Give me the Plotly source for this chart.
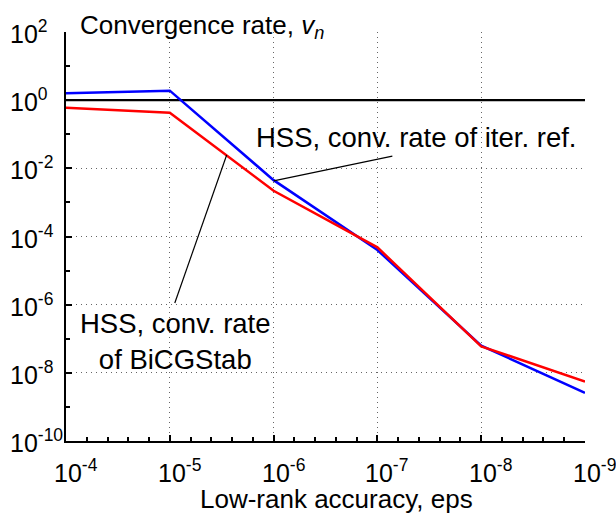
import plotly.graph_objects as go
import numpy as np

# Data
eps = [1e-4, 1e-5, 1e-6, 1e-7, 1e-8, 1e-9]
rate_iter_ref = [1.6, 1.9, 4.5e-3, 4.0e-5, 6.3e-8, 2.6e-9]     # blue
rate_bicgstab = [0.6, 0.43, 2.2e-3, 4.8e-5, 6.0e-8, 5.5e-9]    # red
threshold_x = [1e-4, 1e-9]
threshold_y = [1.0, 1.0]

x_tickvals = [1e-4, 1e-5, 1e-6, 1e-7, 1e-8, 1e-9]
x_ticktext = ["10<sup>-4</sup>", "10<sup>-5</sup>", "10<sup>-6</sup>",
              "10<sup>-7</sup>", "10<sup>-8</sup>", "10<sup>-9</sup>"]
y_tickvals = [1e2, 1e0, 1e-2, 1e-4, 1e-6, 1e-8, 1e-10]
y_ticktext = ["10<sup>2</sup>", "10<sup>0</sup>", "10<sup>-2</sup>", "10<sup>-4</sup>",
              "10<sup>-6</sup>", "10<sup>-8</sup>", "10<sup>-10</sup>"]

FONT = "Liberation Sans, Arial, Helvetica, sans-serif"
L, R, T, B = 66, 31, 32, 74
PW, PH = 616 - L - R, 515 - T - B

fig = go.Figure()
fig.add_trace(go.Scatter(x=threshold_x, y=threshold_y, mode="lines",
                         line=dict(color="black", width=2.2), showlegend=False))
fig.add_trace(go.Scatter(x=eps, y=rate_iter_ref, mode="lines",
                         line=dict(color="#0000ff", width=2.5), showlegend=False))
fig.add_trace(go.Scatter(x=eps, y=rate_bicgstab, mode="lines",
                         line=dict(color="#ff0000", width=2.5), showlegend=False))

# leader lines (label anchor -> point on curve)
fig.add_trace(go.Scatter(x=[10**-7.144, eps[2]], y=[10**-1.64, rate_iter_ref[2]*0.95],
                         mode="lines", line=dict(color="black", width=1.2), showlegend=False))
fig.add_trace(go.Scatter(x=[10**-5.048, 10**-5.548], y=[10**-5.95, 10**-1.61],
                         mode="lines", line=dict(color="black", width=1.2), showlegend=False))

# minor tick positions (MATLAB-style, evenly spaced within a decade)
x_minor = [10**(-d - k/5) for d in range(4, 9) for k in range(1, 5)]
y_minor = [10.0**p for p in range(-9, 2, 2)]

common = dict(type="log", ticks="inside", ticklen=6, tickwidth=1.5, tickcolor="black",
              showline=True, linecolor="black", linewidth=2, mirror=False,
              showgrid=True, gridcolor="#666666", griddash="1px,4px", gridwidth=1,
              zeroline=False, automargin=False, showticklabels=False)
fig.update_xaxes(range=[-4, -9], tickvals=x_tickvals,
                 minor=dict(tickvals=x_minor, ticks="inside", ticklen=4, tickcolor="black", showgrid=False),
                 **common)
fig.update_yaxes(range=[-10, 2], tickvals=y_tickvals,
                 minor=dict(tickvals=y_minor, ticks="inside", ticklen=4, tickcolor="black", showgrid=False),
                 **common)

# tick labels (MATLAB style: x labels centred on the "10", y labels left-aligned)
for v, t in zip(x_tickvals, x_ticktext):
    fig.add_annotation(xref="x", yref="paper", x=np.log10(v), y=-(471 - 441) / PH,
                       xanchor="left", yanchor="middle", xshift=-14, text=t, showarrow=False,
                       font=dict(family=FONT, size=25, color="black"))
for v, t in zip(y_tickvals, y_ticktext):
    fig.add_annotation(xref="paper", yref="y", x=-(L - 8) / PW, y=np.log10(v),
                       xanchor="left", yanchor="middle", text=t, showarrow=False,
                       font=dict(family=FONT, size=25, color="black"))

# axis title
fig.add_annotation(xref="paper", yref="paper", x=(336 - L) / PW, y=-(499 - 441) / PH,
                   xanchor="center", yanchor="middle", text="Low-rank accuracy, eps",
                   showarrow=False, font=dict(family=FONT, size=26, color="black"))

fig.add_annotation(xref="paper", yref="paper", x=(78 - L) / PW, y=1 + (T - 27) / PH,
                   xanchor="left", yanchor="middle",
                   text="Convergence rate, <i>v</i><sub><i>n</i></sub>", showarrow=False,
                   font=dict(family=FONT, size=26, color="black"))
fig.add_annotation(xref="x", yref="y", x=-7.375, y=-1.085, xanchor="center", yanchor="middle",
                   text="HSS, conv. rate of iter. ref.", showarrow=False,
                   font=dict(family=FONT, size=27.5, color="black"))
fig.add_annotation(xref="x", yref="y", x=-5.058, y=-7.08, xanchor="center", yanchor="middle",
                   text="HSS, conv. rate<br>of BiCGStab", showarrow=False,
                   font=dict(family=FONT, size=27.5, color="black"))

fig.update_layout(width=616, height=515, paper_bgcolor="white", plot_bgcolor="white",
                  margin=dict(l=L, r=R, t=T, b=B))
fig.write_html("out.html", config={"displayModeBar": False},
               post_script="document.body.style.margin='0';document.body.style.overflow='hidden';")
